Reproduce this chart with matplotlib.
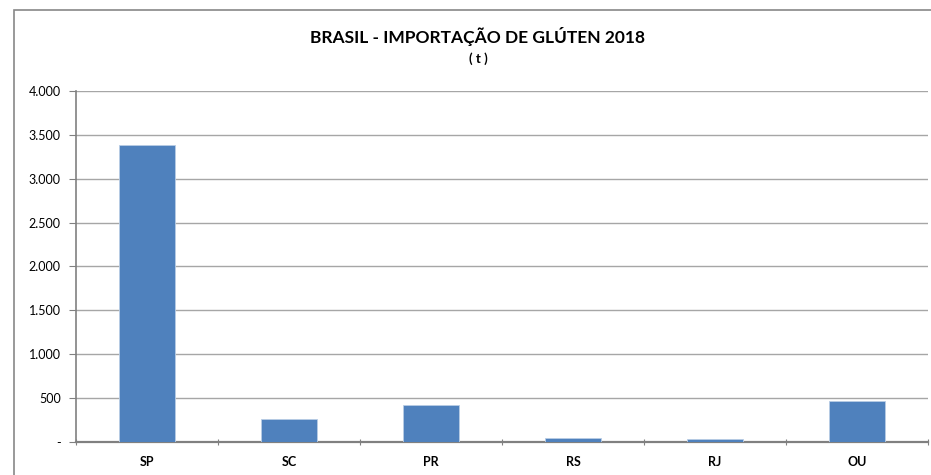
import matplotlib
matplotlib.use("Agg")
import matplotlib.pyplot as plt
from matplotlib.patches import Rectangle
from matplotlib.ticker import FuncFormatter

categories = ["SP", "SC", "PR", "RS", "RJ", "OU"]
values = [3390, 260, 420, 50, 30, 470]
yticks = [0, 500, 1000, 1500, 2000, 2500, 3000, 3500, 4000]

plt.rcParams['font.family'] = ['Lato', 'DejaVu Sans']

fig = plt.figure(figsize=(9.31, 4.75), dpi=100)
fig.patch.set_facecolor('white')
ax = fig.add_axes([76/931, 1-442/475, (928-76)/931, (442-91)/475])

x = list(range(len(categories)))
ax.bar(x, values, width=0.4, color='#4F81BD', edgecolor='#B9CDE5', linewidth=0.6, zorder=3)
ax.set_xlim(-0.5, len(categories) - 0.5)
ax.set_ylim(0, 4000)
ax.set_yticks(yticks)

def fmt(v, pos):
    if v == 0:
        return '-'
    return f"{int(v):,}".replace(',', '.')
ax.yaxis.set_major_formatter(FuncFormatter(fmt))
ax.grid(axis='y', color='#A6A6A6', linewidth=1.0, zorder=0)
ax.set_axisbelow(True)

ax.set_xticks([i - 0.5 for i in range(len(categories) + 1)], minor=False)
ax.set_xticklabels([])
ax.set_xticks(x, minor=True)
ax.set_xticklabels(categories, minor=True, fontweight='bold', fontsize=9)
ax.tick_params(axis='x', which='minor', length=0, pad=10)
ax.tick_params(axis='x', which='major', length=5, color='#808080', direction='inout')
ax.tick_params(axis='y', length=5, color='#808080', labelsize=9, pad=6)

for s in ['top', 'right']:
    ax.spines[s].set_visible(False)
ax.spines['left'].set_color('#808080')
ax.spines['bottom'].set_color('#808080')
ax.spines['left'].set_linewidth(1.2)
ax.spines['bottom'].set_linewidth(1.6)

fig.text(478/931, 1-37/475, "BRASIL - IMPORTAÇÃO DE GLÚTEN 2018", ha='center', va='center',
         fontsize=12.5, fontweight='bold')
fig.text(478/931, 1-59/475, "( t )", ha='center', va='center', fontsize=9.5, fontweight='bold')

fig.add_artist(Rectangle((14/931, -0.1), 1.2, 1 - 10/475 + 0.1, transform=fig.transFigure,
                         fill=False, edgecolor='#888888', linewidth=1.2))

fig.savefig("out.png", dpi=100)
